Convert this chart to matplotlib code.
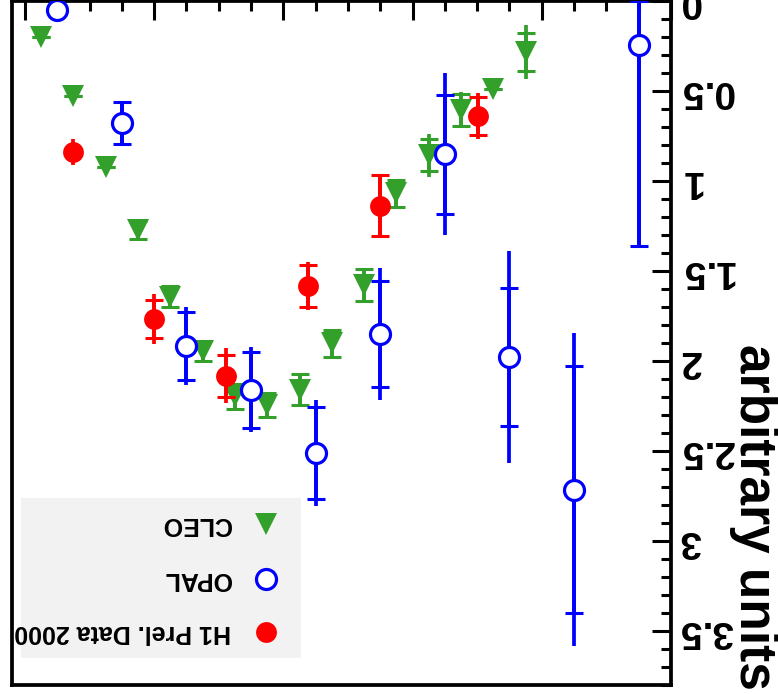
import matplotlib
matplotlib.use("Agg")
import matplotlib.pyplot as plt
from matplotlib.patches import Rectangle
from matplotlib.ticker import MultipleLocator

plt.rcParams["font.family"] = ["Liberation Sans", "DejaVu Sans"]

# CLEO
cleo_x = [4.875, 4.625, 4.375, 4.125, 3.875, 3.625, 3.375, 3.125,
          2.875, 2.625, 2.375, 2.125, 1.875, 1.625, 1.375, 1.125]
cleo_y = [0.202, 0.528, 0.922, 1.273, 1.643, 1.944, 2.197, 2.244,
          2.160, 1.901, 1.578, 1.069, 0.857, 0.607, 0.487, 0.284]
cleo_stat = [0, 0, 0, 0.05, 0.057, 0.055, 0.068, 0.065,
             0.087, 0.074, 0.09, 0.075, 0.088, 0.088, 0, 0.105]
cleo_tot = [0, 0, 0, 0.05, 0.057, 0.055, 0.068, 0.065,
            0.087, 0.074, 0.09, 0.075, 0.118, 0.10, 0, 0.15]

# OPAL (asymmetric only for the last point)
opal_x = [4.75, 4.25, 3.75, 3.25, 2.75, 2.25, 1.75, 1.25, 0.75, 0.25]
opal_y = [0.049, 0.676, 1.916, 2.160, 2.511, 1.850, 0.851, 1.976, 2.715, 0.247]
opal_stat_lo = [0, 0.116, 0.189, 0.211, 0.258, 0.294, 0.33, 0.383, 0.685, 0.247]
opal_stat_hi = [0, 0.116, 0.189, 0.211, 0.258, 0.294, 0.33, 0.383, 0.685, 1.115]
opal_tot_lo = [0.03, 0.116, 0.216, 0.236, 0.294, 0.366, 0.449, 0.588, 0.871, 0.247]
opal_tot_hi = [0.03, 0.116, 0.216, 0.236, 0.294, 0.366, 0.449, 0.588, 0.871, 1.115]

# H1 Prel. Data 2000
h1_x = [4.625, 4.0, 3.44, 2.81, 2.25, 1.49]
h1_y = [0.839, 1.767, 2.083, 1.582, 1.137, 0.639]
h1_stat = [0, 0.105, 0.116, 0.116, 0.17, 0.108]
h1_tot = [0.072, 0.139, 0.153, 0.133, 0.172, 0.128]

GREEN = "#33a02c"
BLUE = "#0000ff"
RED = "#ff0000"


def draw_series(ax, x, y, stat, tot, color, marker, face, mew, ms, z):
    # total error: plain line, stat error: with caps
    ax.errorbar(x, y, yerr=tot, fmt="none", ecolor=color, elinewidth=2.7,
                capsize=6.5, capthick=0, zorder=z)
    ax.errorbar(x, y, yerr=stat, fmt="none", ecolor=color, elinewidth=2.7,
                capsize=6.5, capthick=2.2, zorder=z)
    ax.plot(x, y, linestyle="none", marker=marker, markersize=ms,
            markerfacecolor=face, markeredgecolor=color, markeredgewidth=mew,
            zorder=z + 0.5)


fig = plt.figure(figsize=(7.78, 6.94), dpi=100)
ax = fig.add_axes([12 / 778, 9 / 694, 659 / 778, 684 / 694])

draw_series(ax, cleo_x, cleo_y, cleo_stat, cleo_tot, GREEN, "v", GREEN, 0, 15.5, 3)
draw_series(ax, opal_x, opal_y, [opal_stat_lo, opal_stat_hi],
            [opal_tot_lo, opal_tot_hi], BLUE, "o", "white", 2.3, 14.4, 4)
draw_series(ax, h1_x, h1_y, h1_stat, h1_tot, RED, "o", RED, 0, 15, 5)

# whole picture is turned upside down
ax.set_xlim(5.1, 0)
ax.set_ylim(3.8, 0)

ax.xaxis.tick_top()
ax.yaxis.tick_right()
ax.xaxis.set_major_locator(MultipleLocator(1))
ax.xaxis.set_minor_locator(MultipleLocator(0.25))
ax.yaxis.set_major_locator(MultipleLocator(0.5))
ax.yaxis.set_minor_locator(MultipleLocator(0.1))
ax.yaxis.set_major_formatter(plt.FuncFormatter(lambda v, p: f"{v:g}"))
ax.tick_params(which="major", direction="in", length=14, width=2.2)
ax.tick_params(which="minor", direction="in", length=7.5, width=2.2)
ax.tick_params(axis="x", which="both", labeltop=False, labelbottom=False)
ax.tick_params(axis="y", labelsize=28, labelrotation=180, pad=6)
for t in ax.yaxis.get_major_ticks():
    t.label2.set_fontweight("bold")
    t.label2.set_verticalalignment("center")
for sp in ax.spines.values():
    sp.set_linewidth(2.7)

ax.text(1.1245, -0.007, "arbitrary units", transform=ax.transAxes,
        rotation=270, ha="center", va="bottom", fontsize=37,
        fontweight="bold", clip_on=False)

# legend, drawn by hand
ax.add_patch(Rectangle((0.0137, 0.040), 0.425, 0.233, transform=ax.transAxes,
                       facecolor="#f2f2f2", edgecolor="none", zorder=6))
entries = [
    ("CLEO", "v", GREEN, GREEN, 0, 15.5, 0.235),
    ("OPAL", "o", BLUE, "white", 2.3, 14.4, 0.155),
    ("H1 Prel. Data 2000", "o", RED, RED, 0, 15, 0.077),
]
for name, mk, col, face, mew, ms, yy in entries:
    ax.plot([0.385], [yy], transform=ax.transAxes, linestyle="none",
            marker=mk, markersize=ms, markerfacecolor=face,
            markeredgecolor=col, markeredgewidth=mew, zorder=7,
            clip_on=False)
    ax.text(0.332, yy, name, transform=ax.transAxes, rotation=180,
            ha="right", va="center", fontsize=18, fontweight="bold",
            zorder=7, clip_on=False)

fig.savefig("out.png", dpi=100)
